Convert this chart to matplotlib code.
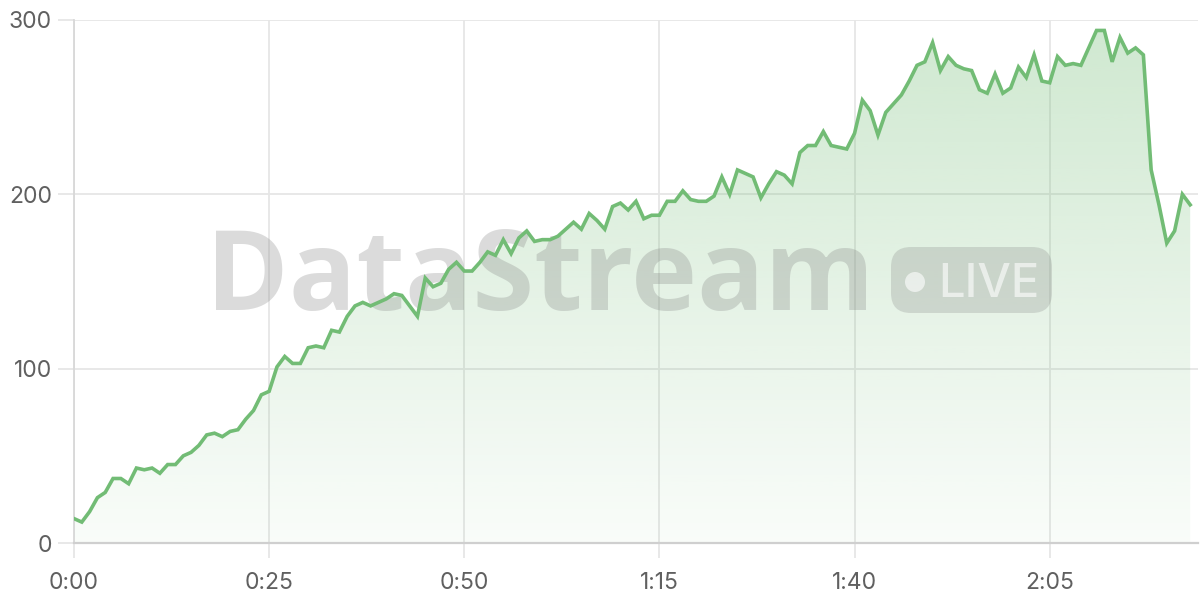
import numpy as np
import matplotlib
matplotlib.use("Agg")
import matplotlib.pyplot as plt
from matplotlib.patches import FancyBboxPatch, Circle
from matplotlib.transforms import IdentityTransform
from matplotlib.ticker import FuncFormatter, FixedLocator

# one reading per second
seconds = list(range(144))
values = [
    14, 12, 18, 26, 29, 37, 37, 34, 43, 42, 43, 40, 45, 45, 50, 52, 56, 62, 63, 61,
    64, 65, 71, 76, 85, 87, 101, 107, 103, 103, 112, 113, 112, 122, 121, 130, 136, 138, 136, 138,
    140, 143, 142, 136, 130, 152, 147, 149, 157, 161, 156, 156, 161, 167, 165, 174, 166, 175, 179, 173,
    174, 174, 176, 180, 184, 180, 189, 185, 180, 193, 195, 191, 196, 186, 188, 188, 196, 196, 202, 197,
    196, 196, 199, 210, 200, 214, 212, 210, 198, 206, 213, 211, 206, 224, 228, 228, 236, 228, 227, 226,
    235, 254, 248, 234, 247, 252, 257, 265, 274, 276, 287, 271, 279, 274, 272, 271, 260, 258, 269, 258,
    261, 273, 267, 280, 265, 264, 279, 274, 275, 274, 284, 294, 294, 276, 290, 281, 284, 280, 214, 194,
    172, 179, 200, 194,
]
x_ticks = [0, 25, 50, 75, 100, 125]
y_ticks = [0, 100, 200, 300]

green = "#72bc75"
grid_c = "#e6e6e6"
label_c = "#606060"
plt.rcParams["font.family"] = ["Inter", "DejaVu Sans"]

fig = plt.figure(figsize=(12, 6), dpi=100)
ax = fig.add_axes([74 / 1200, 57 / 600, 1124 / 1200, 523 / 600])
ax.set_xlim(0, 144)
ax.set_ylim(0, 300)

# gradient fill under the line
poly = ax.fill_between(seconds, values, 0, color="none", lw=0)
grad = np.zeros((256, 1, 4))
grad[:, 0, :3] = matplotlib.colors.to_rgb(green)
grad[:, 0, 3] = np.linspace(0.34, 0.04, 256)
img = ax.imshow(grad, extent=[0, 144, 0, 300], aspect="auto", origin="upper", zorder=1)
img.set_clip_path(poly.get_paths()[0], transform=ax.transData)

ax.plot(seconds, values, color=green, lw=2.6, zorder=4, solid_joinstyle="miter")

# watermark
ax.text(206 / 1200, 290 / 600, "DataStream", transform=fig.transFigure, fontsize=80.5,
        fontweight="bold", family=["Open Sans", "DejaVu Sans"], color="#808080", alpha=0.28,
        ha="left", va="baseline", zorder=2, clip_on=False)
pill = FancyBboxPatch((891, 287), 161, 66, boxstyle="round,pad=0,rounding_size=20",
                      transform=IdentityTransform(), facecolor="#808080", alpha=0.25,
                      edgecolor="none", zorder=2, clip_on=False)
ax.add_patch(pill)
ax.add_patch(Circle((915, 318), 10, transform=IdentityTransform(), facecolor="white",
                    alpha=0.6, edgecolor="none", zorder=3, clip_on=False))
ax.text(938 / 1200, 303 / 600, "LIVE", transform=fig.transFigure, fontsize=34,
        fontweight="medium", color="white", alpha=0.6, ha="left", va="baseline",
        zorder=3, clip_on=False)

ax.xaxis.set_major_locator(FixedLocator(x_ticks))
ax.yaxis.set_major_locator(FixedLocator(y_ticks))
ax.xaxis.set_major_formatter(FuncFormatter(lambda v, p: f"{int(v) // 60}:{int(v) % 60:02d}"))
ax.grid(True, color=grid_c, lw=1.3, zorder=0)
ax.set_axisbelow(True)
for s in ["top", "right"]:
    ax.spines[s].set_visible(False)
ax.spines["bottom"].set_color("#cfcfcf")
ax.spines["bottom"].set_linewidth(1.6)
ax.spines["left"].set_color("#d8d8d8")
ax.spines["left"].set_linewidth(1.3)
ax.tick_params(axis="y", length=11.5, width=1.3, color=grid_c, pad=4.5,
               labelsize=16.5, labelcolor=label_c)
ax.tick_params(axis="x", length=11, width=1.3, color=grid_c, pad=10,
               labelsize=16.5, labelcolor=label_c)

fig.savefig("out.png", dpi=100)
